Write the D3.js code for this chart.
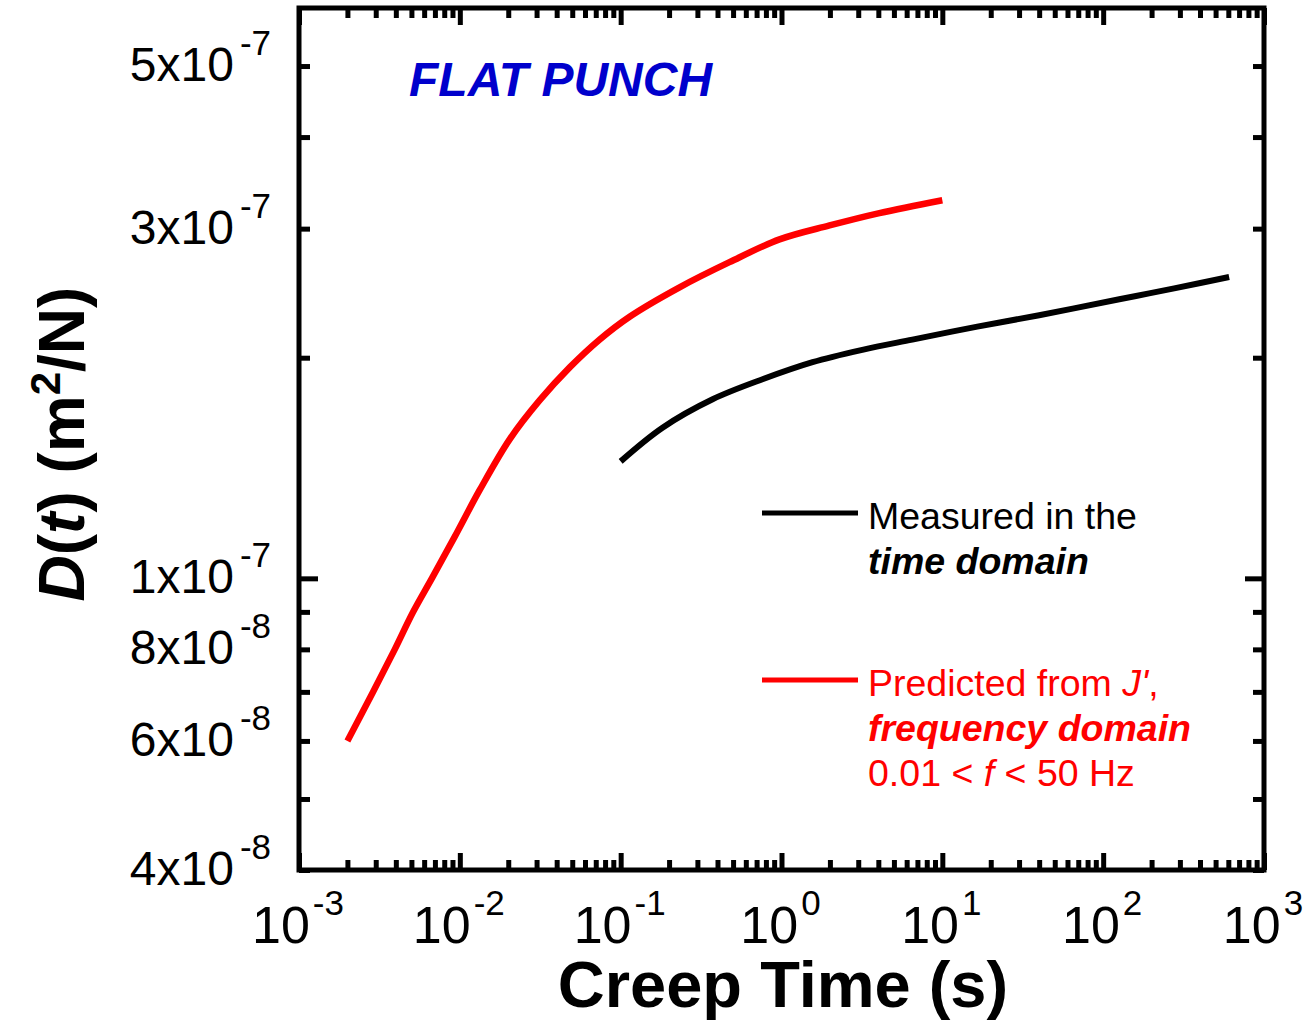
<!DOCTYPE html>
<html>
<head>
<meta charset="utf-8">
<script src="https://cdn.jsdelivr.net/npm/d3@7"></script>
<style>
  html, body { margin: 0; padding: 0; background: #fff; }
  svg { display: block; font-family: "Liberation Sans", Arial, sans-serif; }
</style>
</head>
<body>
<svg id="chart" width="1307" height="1022"></svg>
<script>
// ---- Data ----
// Measured in the time domain: creep time (s) and D(t) (m^2/N)
const measuredTime = [0.1, 0.182, 0.373, 0.762, 1.56, 3.18, 6.51, 16.5, 40, 126, 193, 395, 607];
const measuredD    = [1.444e-7, 1.605e-7, 1.755e-7, 1.869e-7, 1.972e-7, 2.050e-7, 2.117e-7, 2.205e-7, 2.285e-7, 2.403e-7, 2.448e-7, 2.527e-7, 2.577e-7];

// Predicted from J', frequency domain
const predictedTime = [0.002, 0.00288, 0.00394, 0.00511, 0.0067, 0.0093, 0.0133, 0.0205, 0.0314, 0.0482, 0.0741, 0.1137, 0.2324, 0.475, 0.972, 1.99, 4.06, 10];
const predictedD    = [6.0e-8, 6.99e-8, 8.0e-8, 8.99e-8, 1.0e-7, 1.14e-7, 1.32e-7, 1.55e-7, 1.75e-7, 1.94e-7, 2.118e-7, 2.275e-7, 2.495e-7, 2.70e-7, 2.90e-7, 3.03e-7, 3.15e-7, 3.28e-7];

// Axis ticks
const xMajorTicks = [1e-3, 1e-2, 1e-1, 1e0, 1e1, 1e2, 1e3];
const xTickExponents = ["-3", "-2", "-1", "0", "1", "2", "3"];
const yLabelValues = [4e-8, 6e-8, 8e-8, 1e-7, 3e-7, 5e-7];
const yLabelMantissa = ["4", "6", "8", "1", "3", "5"];
const yLabelExponents = ["-8", "-8", "-8", "-7", "-7", "-7"];
const yMajorTicks = [1e-7];
const yMinorTicks = [4e-8, 5e-8, 6e-8, 7e-8, 8e-8, 9e-8, 2e-7, 3e-7, 4e-7, 5e-7];

// ---- Layout ----
const svg = d3.select("#chart");
const L = 299, R = 1264, T = 8, B = 870;

const x = d3.scaleLog().domain([1e-3, 1e3]).range([L, R]);
const y = d3.scaleLog().domain([4e-8, 6e-7]).range([B, T]);

const xMinorTicks = [];
for (let e = -3; e < 3; e++) for (let m = 2; m <= 9; m++) xMinorTicks.push(m * Math.pow(10, e));

const g = svg.append("g");

// Data lines
const line = d3.line().x(d => x(d[0])).y(d => y(d[1])).curve(d3.curveCatmullRom.alpha(0.5));
const measured = measuredTime.map((t, i) => [t, measuredD[i]]);
const predicted = predictedTime.map((t, i) => [t, predictedD[i]]);

g.append("path").datum(predicted).attr("d", line)
  .attr("fill", "none").attr("stroke", "#ff0000").attr("stroke-width", 6.5);
g.append("path").datum(measured).attr("d", line)
  .attr("fill", "none").attr("stroke", "#000").attr("stroke-width", 6);

// Axes via d3 axis generators (ticks pointing inward)
const sw = 5;
function styleAxis(sel) {
  sel.select(".domain").remove();
  sel.selectAll(".tick line").attr("stroke", "#000").attr("stroke-width", sw);
  sel.selectAll(".tick text").remove();
}
// bottom
svg.append("g").attr("transform", `translate(0,${B})`)
  .call(d3.axisBottom(x).tickValues(xMajorTicks).tickSize(-17).tickFormat(""))
  .call(styleAxis);
svg.append("g").attr("transform", `translate(0,${B})`)
  .call(d3.axisBottom(x).tickValues(xMinorTicks).tickSize(-10).tickFormat(""))
  .call(styleAxis);
// top
svg.append("g").attr("transform", `translate(0,${T})`)
  .call(d3.axisTop(x).tickValues(xMajorTicks).tickSize(-17).tickFormat(""))
  .call(styleAxis);
svg.append("g").attr("transform", `translate(0,${T})`)
  .call(d3.axisTop(x).tickValues(xMinorTicks).tickSize(-10).tickFormat(""))
  .call(styleAxis);
// left
svg.append("g").attr("transform", `translate(${L},0)`)
  .call(d3.axisLeft(y).tickValues(yMajorTicks).tickSize(-19).tickFormat(""))
  .call(styleAxis);
svg.append("g").attr("transform", `translate(${L},0)`)
  .call(d3.axisLeft(y).tickValues(yMinorTicks).tickSize(-11).tickFormat(""))
  .call(styleAxis);
// right
svg.append("g").attr("transform", `translate(${R},0)`)
  .call(d3.axisRight(y).tickValues(yMajorTicks).tickSize(-19).tickFormat(""))
  .call(styleAxis);
svg.append("g").attr("transform", `translate(${R},0)`)
  .call(d3.axisRight(y).tickValues(yMinorTicks).tickSize(-11).tickFormat(""))
  .call(styleAxis);

// Frame
svg.append("rect").attr("x", L).attr("y", T).attr("width", R - L).attr("height", B - T)
  .attr("fill", "none").attr("stroke", "#000").attr("stroke-width", sw);

// X tick labels
const xl = svg.append("g");
xMajorTicks.forEach((v, i) => {
  const t = xl.append("text").attr("x", x(v) - 1).attr("y", 943)
    .attr("text-anchor", "middle").attr("font-size", 52).attr("fill", "#000");
  t.append("tspan").text("10");
  t.append("tspan").attr("dy", -28).attr("dx", 3).attr("font-size", 35).text(xTickExponents[i]);
});

// Y tick labels
const yl = svg.append("g");
yLabelValues.forEach((v, i) => {
  const t = yl.append("text").attr("x", 271).attr("y", y(v) + 15)
    .attr("text-anchor", "end").attr("font-size", 48).attr("fill", "#000");
  t.append("tspan").text(yLabelMantissa[i] + "x10");
  t.append("tspan").attr("dy", -26).attr("dx", 6).attr("font-size", 35).text(yLabelExponents[i]);
});

// Axis titles
svg.append("text").attr("x", 783).attr("y", 1007).attr("text-anchor", "middle")
  .attr("font-size", 65).attr("font-weight", "bold").attr("fill", "#000")
  .text("Creep Time (s)");

const yt = svg.append("text").attr("transform", "translate(84,444) rotate(-90)")
  .attr("text-anchor", "middle").attr("font-size", 64).attr("font-weight", "bold").attr("fill", "#000");
yt.append("tspan").attr("font-style", "italic").text("D");
yt.append("tspan").text("(");
yt.append("tspan").attr("font-style", "italic").text("t");
yt.append("tspan").text(") (m");
yt.append("tspan").attr("dy", -24).attr("font-size", 42).text("2");
yt.append("tspan").attr("dy", 24).text("/N)");

// FLAT PUNCH annotation
svg.append("text").attr("x", 409).attr("y", 96)
  .attr("font-size", 48).attr("font-weight", "bold").attr("font-style", "italic")
  .attr("fill", "#0000cc").text("FLAT PUNCH");

// Legend
const fs = 37.5;
const lg = svg.append("g");
lg.append("line").attr("x1", 762).attr("x2", 858).attr("y1", 513).attr("y2", 513)
  .attr("stroke", "#000").attr("stroke-width", 5);
lg.append("text").attr("x", 868).attr("y", 529).attr("font-size", fs).attr("fill", "#000")
  .text("Measured in the");
lg.append("text").attr("x", 868).attr("y", 574).attr("font-size", fs).attr("fill", "#000")
  .attr("font-weight", "bold").attr("font-style", "italic").text("time domain");

lg.append("line").attr("x1", 762).attr("x2", 858).attr("y1", 680).attr("y2", 680)
  .attr("stroke", "#ff0000").attr("stroke-width", 5);
const p1 = lg.append("text").attr("x", 868).attr("y", 696).attr("font-size", fs).attr("fill", "#ff0000");
p1.append("tspan").text("Predicted from ");
p1.append("tspan").attr("font-style", "italic").text("J'");
p1.append("tspan").text(",");
lg.append("text").attr("x", 868).attr("y", 741).attr("font-size", fs).attr("fill", "#ff0000")
  .attr("font-weight", "bold").attr("font-style", "italic").text("frequency domain");
const p3 = lg.append("text").attr("x", 868).attr("y", 786).attr("font-size", fs).attr("fill", "#ff0000");
p3.append("tspan").text("0.01 < ");
p3.append("tspan").attr("font-style", "italic").text("f");
p3.append("tspan").text(" < 50 Hz");
</script>
</body>
</html>
